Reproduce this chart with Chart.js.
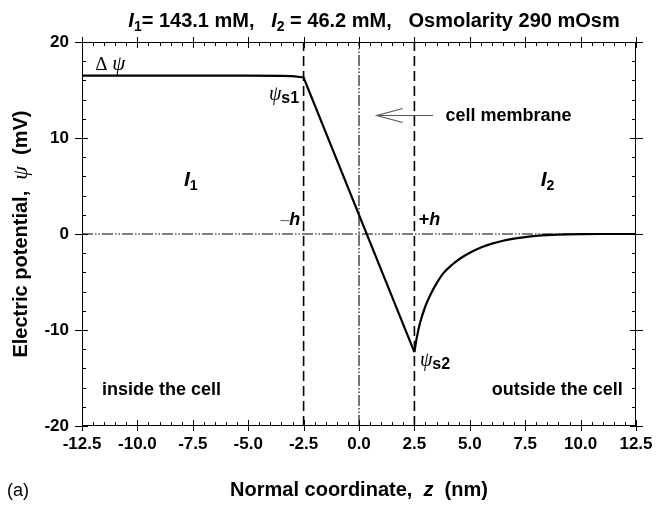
<!DOCTYPE html>
<html>
<head>
<meta charset="utf-8">
<script src="https://cdn.jsdelivr.net/npm/chart.js@4.4.1/dist/chart.umd.min.js"></script>
<style>
  html, body { margin: 0; padding: 0; background: #fff; }
  #wrap { width: 664px; height: 505px; }
</style>
</head>
<body>
<div id="wrap"><canvas id="potentialChart" width="664" height="505"></canvas></div>
<script>
// potential inside the cell + across the membrane (straight segments)
const zInner = [-12.5, -10.0, -7.5, -5.0, -3.5, -3.0, -2.5, 2.5];
const psiInner = [16.5, 16.5, 16.5, 16.5, 16.48, 16.45, 16.3, -12.3];

// diffuse layer outside the cell
const zOuter = [2.5, 2.6, 2.75, 3.0, 3.25, 3.5, 3.8, 4.2, 4.6, 5.0, 5.5, 6.0, 6.5, 7.0, 7.5, 8.0, 8.5, 9.0, 10.0, 11.0, 12.5];
const psiOuter = [-12.3, -10.9, -9.3, -7.5, -6.2, -5.15, -4.1, -3.2, -2.5, -1.95, -1.4, -1.0, -0.7, -0.48, -0.32, -0.2, -0.12, -0.07, -0.02, 0, 0];

const membraneEdges = [-2.5, 2.5];   // -h, +h
const membraneCenter = 0;
const zRange = [-12.5, 12.5];
const psiRange = [-20, 20];
const xTickStep = 2.5;
const yTickStep = 10;

const SANS = '"Liberation Sans", Arial, sans-serif';
const SERIF = '"Liberation Serif", "Times New Roman", serif';
const dashDotDot = [11, 2, 1.5, 2, 1.5, 2];

function pts(xs, ys) { return xs.map((x, i) => ({ x: x, y: ys[i] })); }

const datasets = [
    { data: pts(zInner, psiInner), borderColor: '#000', borderWidth: 2.2, tension: 0 },
    { data: pts(zOuter, psiOuter), borderColor: '#000', borderWidth: 2.2, cubicInterpolationMode: 'monotone' },
    { data: pts(zRange, [0, 0]), borderColor: '#000', borderWidth: 1.1, borderDash: dashDotDot },
    { data: pts([membraneCenter, membraneCenter], psiRange), borderColor: '#000', borderWidth: 1.1, borderDash: dashDotDot }
].concat(membraneEdges.map(z => ({
    data: pts([z, z], psiRange), borderColor: '#000', borderWidth: 1.6, borderDash: [10, 5]
})));

function drawRuns(ctx, parts, x, y, align) {
    let total = 0;
    parts.forEach(p => { ctx.font = p.f; p.w = ctx.measureText(p.t).width; total += p.w; });
    let cx = align === 'right' ? x - total : align === 'center' ? x - total / 2 : x;
    parts.forEach(p => {
        ctx.font = p.f;
        ctx.fillStyle = p.c || '#000';
        ctx.fillText(p.t, cx, y + (p.dy || 0));
        cx += p.w;
    });
}

const annotations = {
    id: 'annotations',
    afterDatasetsDraw(chart) {
        const ctx = chart.ctx;
        const xs = chart.scales.x, ys = chart.scales.y;
        const px = v => xs.getPixelForValue(v), py = v => ys.getPixelForValue(v);
        const area = chart.chartArea;
        ctx.save();
        ctx.textBaseline = 'alphabetic';

        // frame
        ctx.strokeStyle = '#000';
        ctx.lineWidth = 1;
        ctx.strokeRect(area.left + 0.5, area.top + 0.5, area.right - area.left - 1, area.bottom - area.top - 1);

        // tick marks on all four sides
        ctx.beginPath();
        for (let z = zRange[0]; z <= zRange[1] + 1e-6; z += 0.5) {
            const major = Math.abs(z / xTickStep - Math.round(z / xTickStep)) < 1e-6;
            const x = Math.round(px(z)) + 0.5;
            const inn = major ? 6 : 4, out = major ? 5 : 0;
            ctx.moveTo(x, area.bottom + out); ctx.lineTo(x, area.bottom - inn);
            ctx.moveTo(x, area.top - out); ctx.lineTo(x, area.top + inn);
        }
        for (let v = psiRange[0]; v <= psiRange[1] + 1e-6; v += 2) {
            const major = v % yTickStep === 0;
            const y = Math.round(py(v)) + 0.5;
            const inn = major ? 6 : 4, out = major ? 7 : 0;
            ctx.moveTo(area.left - out, y); ctx.lineTo(area.left + inn, y);
            ctx.moveTo(area.right + out, y); ctx.lineTo(area.right - inn, y);
        }
        ctx.stroke();

        const b18 = `bold 18px ${SANS}`;
        const b14 = `bold 14px ${SANS}`;
        const psiF = `italic 20px ${SERIF}`;

        // title
        drawRuns(ctx, [
            { t: 'I', f: `italic bold 20px ${SANS}` },
            { t: '1', f: b14, dy: 4 },
            { t: '= 143.1 mM,   ', f: `bold 20px ${SANS}` },
            { t: 'I', f: `italic bold 20px ${SANS}` },
            { t: '2', f: b14, dy: 4 },
            { t: ' = 46.2 mM,   Osmolarity 290 mOsm', f: `bold 20px ${SANS}` }
        ], 374, 27, 'center');

        // region / surface labels
        drawRuns(ctx, [{ t: '\u0394 ', f: `19px ${SERIF}` }, { t: '\u03C8', f: `italic 21px ${SERIF}` }], px(-11.9), py(17.1), 'left');
        drawRuns(ctx, [{ t: '\u03C8', f: psiF }, { t: 's1', f: `bold 16px ${SANS}`, dy: 3 }], px(-2.7), py(14.0), 'right');
        drawRuns(ctx, [{ t: '\u03C8', f: psiF }, { t: 's2', f: `bold 16px ${SANS}`, dy: 3 }], px(2.75), py(-13.7), 'left');
        drawRuns(ctx, [{ t: 'I', f: `italic bold 21px ${SANS}` }, { t: '1', f: b14, dy: 4 }], px(-7.9), py(5.0), 'left');
        drawRuns(ctx, [{ t: 'I', f: `italic bold 21px ${SANS}` }, { t: '2', f: b14, dy: 4 }], px(8.2), py(5.0), 'left');
        drawRuns(ctx, [{ t: '\u2013', f: `16px ${SANS}`, c: '#666' }, { t: 'h', f: `italic bold 18px ${SANS}` }], px(-2.65), py(0.9), 'right');
        drawRuns(ctx, [{ t: '+', f: b18 }, { t: 'h', f: `italic bold 18px ${SANS}` }], px(2.7), py(0.9), 'left');
        drawRuns(ctx, [{ t: 'inside the cell', f: b18 }], px(-11.6), py(-16.8), 'left');
        drawRuns(ctx, [{ t: 'outside the cell', f: b18 }], px(11.9), py(-16.8), 'right');
        drawRuns(ctx, [{ t: 'cell membrane', f: b18 }], px(3.9), py(11.75), 'left');

        // arrow pointing at the membrane
        const ay = Math.round(py(12.4)) + 0.5;
        const tip = px(0.8), tail = px(3.35);
        ctx.strokeStyle = '#555';
        ctx.lineWidth = 1.1;
        ctx.beginPath();
        ctx.moveTo(tail, ay); ctx.lineTo(tip, ay);
        ctx.moveTo(tip + 26, ay - 7); ctx.lineTo(tip, ay); ctx.lineTo(tip + 26, ay + 7);
        ctx.stroke();

        // axis titles
        const b20 = `bold 20px ${SANS}`;
        drawRuns(ctx, [
            { t: 'Normal coordinate,  ', f: b20 },
            { t: 'z', f: `italic bold 20px ${SANS}` },
            { t: '  (nm)', f: b20 }
        ], (area.left + area.right) / 2, 496, 'center');
        ctx.save();
        ctx.translate(27, (area.top + area.bottom) / 2);
        ctx.rotate(-Math.PI / 2);
        drawRuns(ctx, [
            { t: 'Electric potential,  ', f: b20 },
            { t: '\u03C8', f: `italic 22px ${SERIF}` },
            { t: '  (mV)', f: b20 }
        ], 0, 0, 'center');
        ctx.restore();

        drawRuns(ctx, [{ t: '(a)', f: `18px ${SANS}` }], 7, 496, 'left');
        ctx.restore();
    }
};

new Chart(document.getElementById('potentialChart').getContext('2d'), {
    type: 'line',
    data: { datasets: datasets },
    options: {
        responsive: false,
        animation: false,
        layout: { padding: { top: 42, right: 28, left: 0, bottom: 0 } },
        elements: { point: { radius: 0 } },
        plugins: { legend: { display: false }, tooltip: { enabled: false } },
        scales: {
            x: {
                type: 'linear',
                min: zRange[0],
                max: zRange[1],
                grid: { display: false, drawTicks: false },
                border: { display: false },
                ticks: {
                    stepSize: xTickStep,
                    padding: 8,
                    color: '#000',
                    font: { family: SANS, size: 17, weight: 'bold' },
                    maxRotation: 0,
                    autoSkip: false,
                    callback: v => v.toFixed(1)
                },
                afterFit: s => { s.height = 79; }
            },
            y: {
                min: psiRange[0],
                max: psiRange[1],
                grid: { display: false, drawTicks: false },
                border: { display: false },
                ticks: {
                    stepSize: yTickStep,
                    padding: 13,
                    color: '#000',
                    font: { family: SANS, size: 17, weight: 'bold' }
                },
                afterFit: s => { s.width = 82; }
            }
        }
    },
    plugins: [annotations]
});
</script>
</body>
</html>
